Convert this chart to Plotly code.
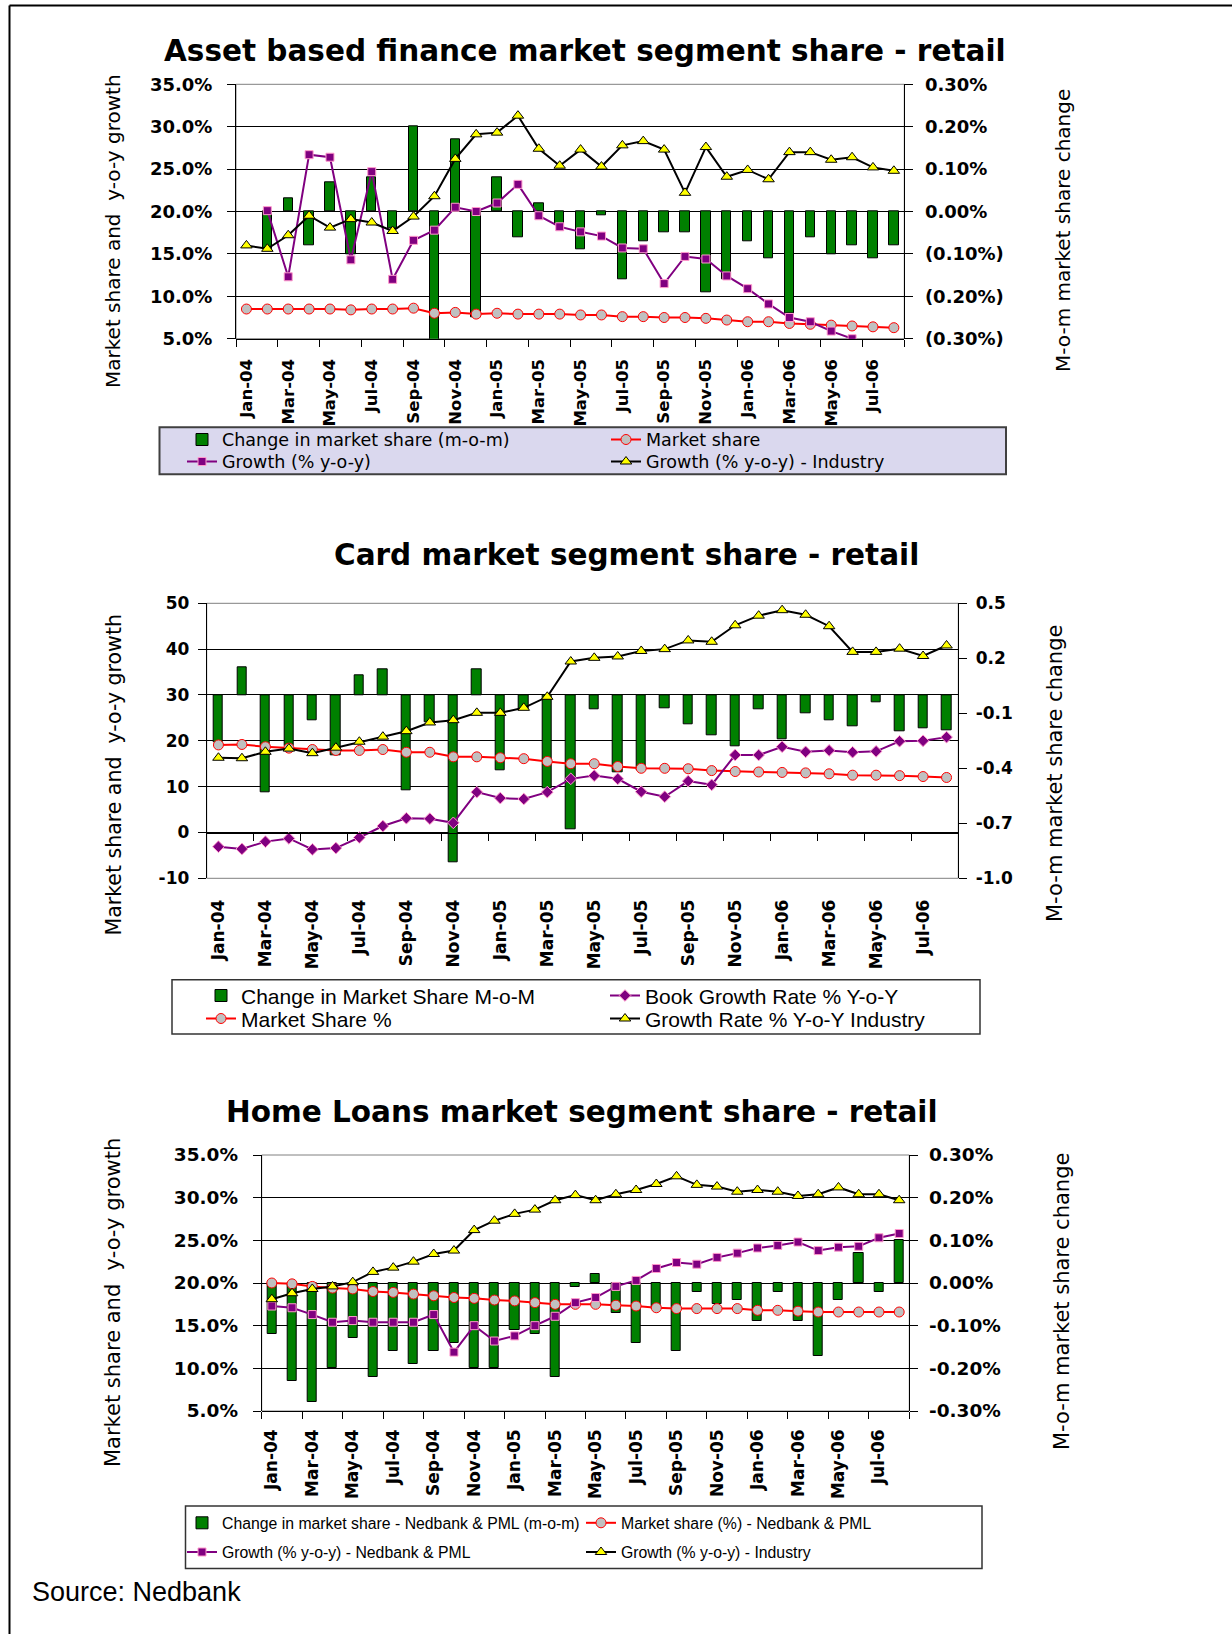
import plotly.graph_objects as go

W, H = 1232, 1634

# ---------------------------------------------------------------- data
months = ["Jan-04", "Feb-04", "Mar-04", "Apr-04", "May-04", "Jun-04", "Jul-04", "Aug-04",
          "Sep-04", "Oct-04", "Nov-04", "Dec-04", "Jan-05", "Feb-05", "Mar-05", "Apr-05",
          "May-05", "Jun-05", "Jul-05", "Aug-05", "Sep-05", "Oct-05", "Nov-05", "Dec-05",
          "Jan-06", "Feb-06", "Mar-06", "Apr-06", "May-06", "Jun-06", "Jul-06", "Aug-06"]

# Asset based finance (left axis: %, right axis: m-o-m change in % points)
abf_mom = [None, -0.09, 0.03, -0.08, 0.07, -0.10, 0.08, -0.04, 0.20, -0.32, 0.17, -0.25,
           0.08, -0.06, 0.02, -0.03, -0.09, -0.01, -0.16, -0.07, -0.05, -0.05, -0.19, -0.16,
           -0.07, -0.11, -0.24, -0.06, -0.10, -0.08, -0.11, -0.08]
abf_share = [8.5, 8.5, 8.5, 8.5, 8.5, 8.4, 8.5, 8.5, 8.6, 8.0, 8.1, 7.9, 8.0, 7.9, 7.9, 7.9,
             7.8, 7.8, 7.6, 7.6, 7.5, 7.5, 7.4, 7.2, 7.0, 7.0, 6.8, 6.7, 6.6, 6.5, 6.4, 6.3]
abf_growth = [None, 20.1, 12.3, 26.7, 26.4, 14.3, 24.7, 12.0, 16.6, 17.8, 20.5, 20.0,
              21.0, 23.2, 19.5, 18.2, 17.6, 17.1, 15.7, 15.6, 11.5, 14.7, 14.4, 12.4,
              10.9, 9.1, 7.5, 7.0, 5.9, 5.0, 4.2, 3.5]
abf_industry = [16.0, 15.6, 17.2, 19.5, 18.1, 19.1, 18.7, 17.7, 19.4, 21.8, 26.2, 29.1,
                29.3, 31.3, 27.4, 25.4, 27.3, 25.3, 27.8, 28.3, 27.3, 22.2, 27.6, 24.1,
                24.9, 23.8, 27.0, 27.0, 26.1, 26.4, 25.2, 24.8]

# Card
card_mom = [-0.26, 0.15, -0.53, -0.28, -0.14, -0.33, 0.11, 0.14, -0.52, -0.15, -0.91, 0.14,
            -0.41, -0.08, -0.51, -0.73, -0.08, -0.42, -0.41, -0.07, -0.16, -0.22, -0.28, -0.08,
            -0.24, -0.10, -0.14, -0.17, -0.04, -0.20, -0.18, -0.19]
card_share = [19.1, 19.2, 18.7, 18.4, 18.1, 17.9, 17.9, 18.1, 17.5, 17.5, 16.5, 16.5,
              16.3, 16.1, 15.5, 15.0, 15.0, 14.4, 14.0, 14.0, 13.9, 13.5, 13.3, 13.2,
              13.1, 13.0, 12.8, 12.5, 12.5, 12.4, 12.2, 12.0]
card_growth = [-3.1, -3.6, -2.0, -1.3, -3.7, -3.4, -1.1, 1.4, 3.1, 3.0, 2.1, 8.8,
               7.5, 7.3, 8.8, 11.7, 12.4, 11.7, 8.9, 7.8, 11.2, 10.4, 16.9, 16.9,
               18.7, 17.6, 17.9, 17.5, 17.7, 19.9, 20.0, 20.8]
card_industry = [16.3, 16.2, 17.6, 18.3, 17.3, 18.5, 19.8, 20.9, 22.1, 24.0, 24.5, 26.1,
                 26.1, 27.2, 29.6, 37.3, 38.1, 38.4, 39.6, 40.0, 41.9, 41.6, 45.2, 47.3,
                 48.5, 47.5, 45.0, 39.4, 39.4, 40.1, 38.5, 40.8]

# Home loans
hl_mom = [-0.12, -0.23, -0.28, -0.20, -0.13, -0.22, -0.16, -0.19, -0.16, -0.14, -0.20, -0.20,
          -0.11, -0.12, -0.22, -0.01, 0.02, -0.07, -0.14, -0.06, -0.16, -0.02, -0.05, -0.04,
          -0.09, -0.02, -0.09, -0.17, -0.04, 0.07, -0.02, 0.10]
hl_share = [20.0, 19.9, 19.6, 19.4, 19.3, 19.0, 18.9, 18.7, 18.5, 18.3, 18.2, 18.0,
            17.9, 17.7, 17.5, 17.5, 17.5, 17.4, 17.3, 17.1, 17.0, 17.0, 17.0, 17.0,
            16.8, 16.8, 16.7, 16.6, 16.6, 16.6, 16.6, 16.6]
hl_growth = [17.3, 17.1, 16.3, 15.4, 15.6, 15.4, 15.4, 15.4, 16.3, 11.9, 15.0, 13.2,
             13.8, 15.0, 16.1, 17.7, 18.3, 19.6, 20.3, 21.7, 22.4, 22.2, 23.0, 23.5,
             24.1, 24.4, 24.8, 23.8, 24.2, 24.3, 25.3, 25.8]
hl_industry = [18.1, 18.8, 19.3, 19.6, 20.1, 21.3, 21.8, 22.5, 23.4, 23.8, 26.2, 27.3,
               28.1, 28.6, 29.7, 30.3, 29.7, 30.4, 30.9, 31.6, 32.5, 31.5, 31.3, 30.7,
               30.9, 30.7, 30.2, 30.4, 31.2, 30.4, 30.4, 29.7]

# axis ticks
pct_vals = [5, 10, 15, 20, 25, 30, 35]
pct_text = ["5.0%", "10.0%", "15.0%", "20.0%", "25.0%", "30.0%", "35.0%"]
abf_right_vals = [-0.3, -0.2, -0.1, 0.0, 0.1, 0.2, 0.3]
abf_right_text = ["(0.30%)", "(0.20%)", "(0.10%)", "0.00%", "0.10%", "0.20%", "0.30%"]
card_left_vals = [-10, 0, 10, 20, 30, 40, 50]
card_left_text = ["-10", "0", "10", "20", "30", "40", "50"]
card_right_vals = [-1.0, -0.7, -0.4, -0.1, 0.2, 0.5]
card_right_text = ["-1.0", "-0.7", "-0.4", "-0.1", "0.2", "0.5"]
hl_right_vals = [-0.3, -0.2, -0.1, 0.0, 0.1, 0.2, 0.3]
hl_right_text = ["-0.30%", "-0.20%", "-0.10%", "0.00%", "0.10%", "0.20%", "0.30%"]

month_idx = list(range(len(months)))
label_vals = month_idx[::2]
label_text = months[::2]
tick_bounds = [i - 0.5 for i in label_vals] + [len(months) - 0.5]
x_range = [-0.5, len(months) - 0.5]

# ---------------------------------------------------------------- helpers
DJ = "DejaVu Sans"
LS = "Liberation Sans"


def fx(px):
    return px / W


def fy(py):
    return 1 - py / H


def fnt(family, size, bold=False):
    f = dict(family=family, size=size, color="black")
    if bold:
        f["weight"] = "bold"
    return f


GREEN = "#008000"
RED = "#ff0000"
PURPLE = "#800080"
PINK = "#ff99cc"

fig = go.Figure()
layout = {}
shapes = []
annotations = []
legend_count = [0]


def legend_entry(text_x, center_y, f):
    """A one-item legend whose text starts at text_x and is centred on center_y (px)."""
    legend_count[0] += 1
    key = "legend" if legend_count[0] == 1 else "legend%d" % legend_count[0]
    h = f["size"] * 1.3 + 3
    top = center_y - h / 2 - 5
    layout[key] = dict(x=fx(text_x - 40), y=fy(top), xanchor="left", yanchor="top",
                       orientation="v", bgcolor="rgba(0,0,0,0)", borderwidth=0, font=f)
    return key


def bar(name, vals, width, xa, ya, legend):
    return go.Bar(x=month_idx, y=vals, name=name, width=width, xaxis=xa, yaxis=ya,
                  marker=dict(color=GREEN, line=dict(color="black", width=1)),
                  legend=legend)


def share_line(name, vals, xa, ya, legend):
    return go.Scatter(x=month_idx, y=vals, name=name, mode="lines+markers", xaxis=xa, yaxis=ya,
                      line=dict(color=RED, width=2),
                      marker=dict(symbol="circle", size=10, color="#c0c0c0",
                                  line=dict(color=RED, width=1)),
                      legend=legend)


def growth_line(name, vals, symbol, size, xa, ya, legend):
    return go.Scatter(x=month_idx, y=vals, name=name, mode="lines+markers", xaxis=xa, yaxis=ya,
                      line=dict(color=PURPLE, width=2),
                      marker=dict(symbol=symbol, size=size, color=PURPLE,
                                  line=dict(color=PINK, width=1)),
                      legend=legend)


def industry_line(name, vals, xa, ya, legend):
    return go.Scatter(x=month_idx, y=vals, name=name, mode="lines+markers", xaxis=xa, yaxis=ya,
                      line=dict(color="black", width=2),
                      marker=dict(symbol="triangle-up", size=10, color="#ffff00",
                                  line=dict(color="black", width=1)),
                      legend=legend)


def panel(n, box, zero_py, left, right, sizes, standoffs):
    """Axes for one chart: label x axis, tick x axis, right (bar) y axis, left (line) y axis."""
    l, r, t, b = box
    a, c = 2 * n - 1, 2 * n
    sx = lambda k: "" if k == 1 else str(k)
    xd = [fx(l), fx(r)]
    yd = [fy(b), fy(t)]
    tick_size, xlab_size = sizes
    so_left, so_right, so_x = standoffs
    layout["xaxis" + sx(a)] = dict(
        domain=xd, anchor="y" + sx(a), range=x_range, tickmode="array",
        tickvals=label_vals, ticktext=label_text, tickangle=-90, ticks="",
        showline=False, showgrid=False, zeroline=False, fixedrange=True, automargin=False,
        tickfont=fnt(DJ, xlab_size, True), ticklabelstandoff=so_x)
    layout["xaxis" + sx(c)] = dict(
        domain=xd, overlaying="x" + sx(a), anchor="free", position=fy(zero_py),
        range=x_range, tickmode="array", tickvals=tick_bounds, ticks="outside",
        ticklen=7, tickwidth=1, tickcolor="black", showticklabels=False,
        showline=True, linecolor="black", linewidth=1, showgrid=False,
        zeroline=False, fixedrange=True, automargin=False)
    layout["yaxis" + sx(a)] = dict(
        domain=yd, anchor="x" + sx(a), side="right", range=right[0],
        tickmode="array", tickvals=right[1], ticktext=right[2], ticks="outside",
        ticklen=8, tickwidth=1, tickcolor="black", showline=True, linecolor="black",
        linewidth=1, showgrid=False, zeroline=False, fixedrange=True, automargin=False,
        tickfont=fnt(DJ, tick_size, True), ticklabelstandoff=so_right)
    layout["yaxis" + sx(c)] = dict(
        domain=yd, anchor="x" + sx(a), overlaying="y" + sx(a), side="left",
        range=left[0], tickmode="array", tickvals=left[1], ticktext=left[2],
        ticks="outside", ticklen=8, tickwidth=1, tickcolor="black", showline=True,
        linecolor="black", linewidth=1, showgrid=True, gridcolor="black", gridwidth=1,
        zeroline=False, fixedrange=True, automargin=False,
        tickfont=fnt(DJ, tick_size, True), ticklabelstandoff=so_left)
    # plot-area border
    shapes.append(dict(type="rect", xref="x" + sx(a) + " domain", yref="y" + sx(a) + " domain",
                       x0=0, x1=1, y0=0, y1=1, line=dict(color="#808080", width=1),
                       layer="below"))
    return "x" + sx(a), "x" + sx(c), "y" + sx(a), "y" + sx(c)


def text(s, x, y, f, angle=0, xanchor="center"):
    annotations.append(dict(text=s, x=fx(x), y=fy(y), xref="paper", yref="paper",
                            xanchor=xanchor, yanchor="middle", showarrow=False,
                            textangle=angle, font=f))


def legend_box(l, r, t, b, fill, line_color, width):
    shapes.append(dict(type="rect", xref="paper", yref="paper", x0=fx(l), x1=fx(r),
                       y0=fy(b), y1=fy(t), fillcolor=fill,
                       line=dict(color=line_color, width=width), layer="below"))


LEFT_TITLE = "Market share and\u00a0 y-o-y growth"
RIGHT_TITLE = "M-o-m market share change"

# ---------------------------------------------------------------- chart 1
xa, xt, yr, yl = panel(1, (236, 904.3, 84.3, 338.7), 338.7,
                       ([5, 35], pct_vals, pct_text),
                       ([-0.3, 0.3], abf_right_vals, abf_right_text),
                       (18, 16.5), (11, 8, 16))
f1 = fnt(DJ, 17.5)
fig.add_trace(bar("Change in market share (m-o-m)", abf_mom, 0.45, xa, yr,
                  legend_entry(222, 439.5, f1)))
fig.add_trace(share_line("Market share", abf_share, xt, yl, legend_entry(646, 439.5, f1)))
fig.add_trace(growth_line("Growth (% y-o-y)", abf_growth, "square", 8, xt, yl,
                          legend_entry(222, 461.5, f1)))
fig.add_trace(industry_line("Growth (% y-o-y) - Industry", abf_industry, xt, yl,
                            legend_entry(646, 461.5, f1)))
text("Asset based finance market segment share - retail", 585, 51, fnt(DJ, 29.5, True))
text(LEFT_TITLE, 113, 231, fnt(DJ, 20), -90)
text(RIGHT_TITLE, 1063, 231, fnt(DJ, 20), -90)
legend_box(159.5, 1006, 427.3, 474.2, "#dad8ee", "#404040", 2)

# ---------------------------------------------------------------- chart 2
xa, xt, yr, yl = panel(2, (206.7, 958.3, 603.3, 878.3), 832.5,
                       ([-10, 50], card_left_vals, card_left_text),
                       ([-1.0, 0.5], card_right_vals, card_right_text),
                       (17, 17), (5, 5, 17))
f2 = fnt(LS, 21)
fig.add_trace(bar("Change in Market Share M-o-M", card_mom, 0.4, xa, yr,
                  legend_entry(241, 995.5, f2)))
fig.add_trace(share_line("Market Share %", card_share, xt, yl, legend_entry(241, 1018.5, f2)))
fig.add_trace(growth_line("Book Growth Rate % Y-o-Y", card_growth, "diamond", 9, xt, yl,
                          legend_entry(645, 995.5, f2)))
fig.add_trace(industry_line("Growth Rate % Y-o-Y Industry", card_industry, xt, yl,
                            legend_entry(645, 1018.5, f2)))
text("Card market segment share - retail", 626, 555, fnt(DJ, 29.5, True))
text(LEFT_TITLE, 113, 775.5, fnt(DJ, 20.5), -90)
text(RIGHT_TITLE, 1055, 774, fnt(DJ, 21), -90)
legend_box(172, 980, 979.8, 1034, "white", "#333333", 1.5)

# ---------------------------------------------------------------- chart 3
xa, xt, yr, yl = panel(3, (261.7, 909.3, 1155, 1411), 1411,
                       ([5, 35], pct_vals, pct_text),
                       ([-0.3, 0.3], hl_right_vals, hl_right_text),
                       (18.5, 17), (11, 7, 14))
f3 = fnt(LS, 15.8)
fig.add_trace(bar("Change in market share - Nedbank & PML (m-o-m)", hl_mom, 0.45, xa, yr,
                  legend_entry(222, 1522.8, f3)))
fig.add_trace(share_line("Market share (%) - Nedbank & PML", hl_share, xt, yl,
                         legend_entry(621, 1522.8, f3)))
fig.add_trace(growth_line("Growth (% y-o-y) - Nedbank & PML", hl_growth, "square", 8, xt, yl,
                          legend_entry(222, 1552, f3)))
fig.add_trace(industry_line("Growth (% y-o-y) - Industry", hl_industry, xt, yl,
                            legend_entry(621, 1552, f3)))
text("Home Loans market segment share - retail", 581.5, 1112, fnt(DJ, 29.5, True))
text(LEFT_TITLE, 113, 1303, fnt(DJ, 21), -90)
text(RIGHT_TITLE, 1062, 1302, fnt(DJ, 21), -90)
legend_box(185.5, 982, 1506, 1568.6, "white", "#333333", 1.5)

text("Source: Nedbank", 29.7, 1592, fnt(LS, 27), xanchor="left")

# page frame (top and left rules)
shapes.append(dict(type="line", xref="paper", yref="paper", x0=fx(9.5), x1=1,
                   y0=fy(5.5), y1=fy(5.5), line=dict(color="black", width=2)))
shapes.append(dict(type="line", xref="paper", yref="paper", x0=fx(9.5), x1=fx(9.5),
                   y0=fy(5.5), y1=0, line=dict(color="black", width=2)))

fig.update_layout(
    width=W, height=H, margin=dict(l=0, r=0, t=0, b=0, pad=0, autoexpand=False),
    paper_bgcolor="white", plot_bgcolor="white", showlegend=True,
    hovermode=False, bargap=0, shapes=shapes, annotations=annotations, **layout)

fig.write_html("out.html", config={"displayModeBar": False})
